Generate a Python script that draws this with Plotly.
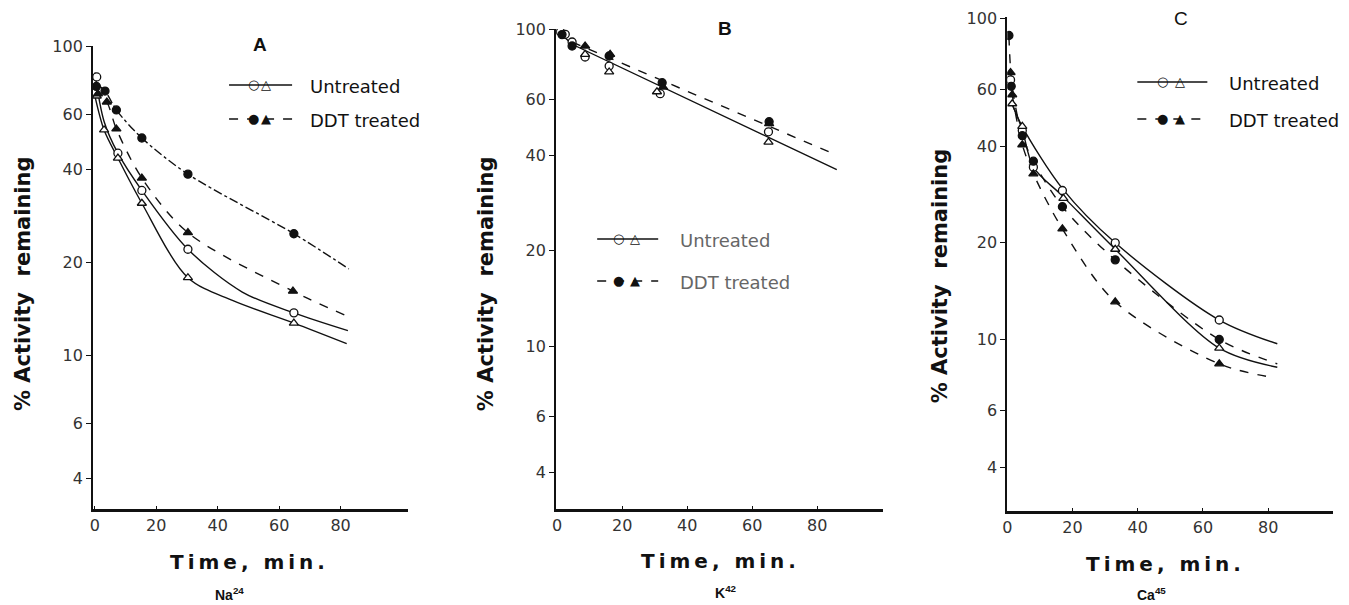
import plotly.graph_objects as go

W, H = 1349, 605

# ---------------- Panel A : Na24 ----------------
a_unt_circ_t = [0.6, 7.5, 15.3, 30.3, 64.8]
a_unt_circ_v = [79.4, 45.0, 34.1, 22.0, 13.7]
a_unt_tri_t = [0.6, 3.0, 7.5, 15.3, 30.3, 64.8]
a_unt_tri_v = [68.9, 53.5, 43.4, 31.0, 17.8, 12.7]
a_ddt_circ_t = [0.5, 3.3, 7.0, 15.3, 30.3, 64.8]
a_ddt_circ_v = [74.0, 71.5, 62.1, 50.4, 38.5, 24.7]
a_ddt_tri_t = [1.0, 3.9, 7.0, 15.3, 30.3, 64.5]
a_ddt_tri_v = [70.0, 65.9, 53.9, 37.4, 24.9, 16.1]

# fitted curves
a_fit_unt_circ_t = [0, 3, 7.5, 15.3, 30.3, 48, 64.8, 82.4]
a_fit_unt_circ_v = [82, 57, 45, 34.1, 22, 16, 13.7, 12.0]
a_fit_unt_tri_t = [0, 3, 7.5, 15.3, 30.3, 45, 64.8, 82]
a_fit_unt_tri_v = [69, 53.5, 43.4, 31, 17.8, 15.0, 12.7, 10.9]
a_fit_ddt_circ_t = [0, 3.3, 7, 15.3, 30.3, 64.8, 82.7]
a_fit_ddt_circ_v = [76, 71.5, 62.1, 50.4, 38.5, 24.7, 19.0]
a_fit_ddt_tri_t = [0, 3.9, 7, 15.3, 30.3, 64.5, 82]
a_fit_ddt_tri_v = [73, 65.9, 53.9, 37.4, 24.9, 16.1, 13.4]

# ---------------- Panel B : K42 ----------------
b_unt_circ_t = [1.0, 2.5, 4.6, 8.6, 16.0, 31.7, 65.0]
b_unt_circ_v = [98.0, 96.2, 91.0, 81.6, 76.4, 62.5, 47.4]
b_unt_tri_t = [8.6, 16.0, 30.7, 65.0]
b_unt_tri_v = [83.2, 73.2, 63.4, 44.0]
b_ddt_circ_t = [1.5, 4.6, 16.0, 32.3, 65.2]
b_ddt_circ_v = [96.0, 88.4, 82.2, 67.7, 51.0]
b_ddt_tri_t = [8.6, 16.3, 32.6, 65.2]
b_ddt_tri_v = [88.4, 83.2, 65.6, 50.3]

b_fit_unt_t = [0, 4.6, 86]
b_fit_unt_v = [99, 89.5, 36]
b_fit_ddt_t = [4.6, 86]
b_fit_ddt_v = [91, 40]

# ---------------- Panel C : Ca45 ----------------
c_unt_circ_t = [1.0, 4.6, 8.0, 16.9, 33.1, 65.0]
c_unt_circ_v = [64.3, 44.7, 34.4, 29.1, 20.0, 11.5]
c_unt_tri_t = [1.5, 4.6, 17.2, 33.1, 65.0]
c_unt_tri_v = [54.2, 46.1, 27.5, 19.1, 9.4]
c_ddt_circ_t = [0.5, 1.2, 4.6, 8.0, 16.9, 33.1, 65.0]
c_ddt_circ_v = [88.4, 61.4, 43.1, 35.9, 25.9, 17.7, 10.0]
c_ddt_tri_t = [1.0, 1.5, 4.6, 8.0, 16.9, 33.1, 65.0]
c_ddt_tri_v = [67.8, 57.8, 40.4, 32.8, 22.1, 13.1, 8.4]

c_fit_unt_circ_t = [1.5, 4.6, 16.9, 33.1, 65, 82.8]
c_fit_unt_circ_v = [54, 46, 29.5, 20, 11.5, 9.7]
c_fit_unt_tri_t = [1.5, 4.6, 8, 16.9, 33.1, 65, 82.8]
c_fit_unt_tri_v = [54, 45, 34.4, 28, 19.1, 9.4, 8.2]
c_fit_ddt_circ_t = [0.5, 1.5, 4.6, 8, 16.9, 33.1, 65, 82.8]
c_fit_ddt_circ_v = [88, 61.4, 43.1, 35.9, 25.9, 17.7, 10.0, 8.4]
c_fit_ddt_tri_t = [1.5, 4.6, 8, 16.9, 33.1, 65, 82]
c_fit_ddt_tri_v = [57.8, 40.4, 32.8, 22.1, 13.1, 8.4, 7.6]

y_ticks = [4, 6, 10, 20, 40, 60, 100]
x_ticks = [0, 20, 40, 60, 80]
panel_letters = ["A", "B", "C"]
isotopes = ["Na<sup>24</sup>", "K<sup>42</sup>", "Ca<sup>45</sup>"]
legend_labels = ["Untreated", "DDT treated"]

INK = "#111111"

# the page puts the figure slightly in from the corner; map screen px -> paper
SX, OX = 0.996, 13.0
SY, OY = 0.985, 16.0


def clamp(v):
    return min(1.0, max(0.0, v))


def px(x):
    return ((x - OX) / SX) / W


def py(y):
    return 1 - ((y - OY) / SY) / H


fig = go.Figure()


def curve(t, v, ax, dash="solid", shape="spline"):
    fig.add_trace(go.Scatter(x=t, y=v, mode="lines", xaxis="x" + ax, yaxis="y" + ax,
                             line=dict(color=INK, width=1.4, dash=dash, shape=shape,
                                       smoothing=0.9),
                             hoverinfo="skip", showlegend=False))


def pts(t, v, ax, symbol, filled):
    fig.add_trace(go.Scatter(x=t, y=v, mode="markers", xaxis="x" + ax, yaxis="y" + ax,
                             marker=dict(symbol=symbol, size=8,
                                         color=INK if filled else "white",
                                         line=dict(color=INK, width=1.3)),
                             showlegend=False))


# panel A
curve(a_fit_unt_circ_t, a_fit_unt_circ_v, "")
curve(a_fit_unt_tri_t, a_fit_unt_tri_v, "")
curve(a_fit_ddt_circ_t, a_fit_ddt_circ_v, "", dash="dashdot")
curve(a_fit_ddt_tri_t, a_fit_ddt_tri_v, "", dash="dash")
pts(a_unt_circ_t, a_unt_circ_v, "", "circle", False)
pts(a_unt_tri_t, a_unt_tri_v, "", "triangle-up", False)
pts(a_ddt_circ_t, a_ddt_circ_v, "", "circle", True)
pts(a_ddt_tri_t, a_ddt_tri_v, "", "triangle-up", True)

# panel B
curve(b_fit_unt_t, b_fit_unt_v, "2", shape="linear")
curve(b_fit_ddt_t, b_fit_ddt_v, "2", dash="dash", shape="linear")
pts(b_unt_circ_t, b_unt_circ_v, "2", "circle", False)
pts(b_unt_tri_t, b_unt_tri_v, "2", "triangle-up", False)
pts(b_ddt_circ_t, b_ddt_circ_v, "2", "circle", True)
pts(b_ddt_tri_t, b_ddt_tri_v, "2", "triangle-up", True)

# panel C
curve(c_fit_unt_circ_t, c_fit_unt_circ_v, "3")
curve(c_fit_unt_tri_t, c_fit_unt_tri_v, "3")
curve(c_fit_ddt_circ_t, c_fit_ddt_circ_v, "3", dash="dash")
curve(c_fit_ddt_tri_t, c_fit_ddt_tri_v, "3", dash="dash")
pts(c_unt_circ_t, c_unt_circ_v, "3", "circle", False)
pts(c_unt_tri_t, c_unt_tri_v, "3", "triangle-up", False)
pts(c_ddt_circ_t, c_ddt_circ_v, "3", "circle", True)
pts(c_ddt_tri_t, c_ddt_tri_v, "3", "triangle-up", True)

# panel geometry in screen pixels: (left, right, top, bottom, x-range, y-range(log))
panels = [
    dict(l=93, r=408, t=45, b=508, xr=[-0.6, 102], yr=[0.502, 2]),
    dict(l=556, r=883, t=28, b=508, xr=[-0.3, 100.3], yr=[0.486, 2]),
    dict(l=1007, r=1333, t=16, b=510, xr=[0, 100], yr=[0.466, 2.004]),
]

tick_font = dict(family="DejaVu Sans", size=16, color="#333333")
layout = {}
for i, p in enumerate(panels):
    sfx = "" if i == 0 else str(i + 1)
    layout["xaxis" + sfx] = dict(
        domain=[clamp(px(p["l"])), clamp(px(p["r"]))], range=p["xr"], anchor="y" + sfx,
        showline=True, linecolor=INK, linewidth=2.5, showgrid=False, zeroline=False,
        tickmode="array", tickvals=x_ticks, ticks="inside", ticklen=3, tickwidth=1,
        tickcolor=INK, tickfont=tick_font, fixedrange=True)
    layout["yaxis" + sfx] = dict(
        domain=[clamp(py(p["b"])), clamp(py(p["t"]))], range=p["yr"], type="log",
        anchor="x" + sfx,
        showline=True, linecolor=INK, linewidth=2, showgrid=False, zeroline=False,
        tickmode="array", tickvals=y_ticks, ticktext=[str(v) for v in y_ticks],
        ticks="outside", ticklen=5, tickwidth=1, tickcolor=INK, tickfont=tick_font,
        fixedrange=True)

annotations = []
shapes = []


def text(x, y, s, size, bold=False, family="Liberation Sans", angle=0, color=INK,
         xanchor="center"):
    annotations.append(dict(
        x=px(x), y=py(y), xref="paper", yref="paper", text=("<b>%s</b>" % s) if bold else s,
        showarrow=False, textangle=angle, xanchor=xanchor, yanchor="middle",
        font=dict(family=family, size=size, color=color)))


ytitle = "% Activity\u2009\u2009 remaining"
xtitle = "T\u2009i\u2009m\u2009e\u2009,\u2009\u2009 m\u2009i\u2009n\u2009."
y_title_x = [23, 486, 940]
y_title_y = [283, 283, 275]
x_title_x = [247, 718, 1163]
x_title_y = [561, 560, 563]
iso_x = [229, 726, 1151]
iso_y = [593, 591, 593]
letter_pos = [(260, 43), (725, 27), (1181, 17)]

for i in range(3):
    text(y_title_x[i], y_title_y[i], ytitle, 21, bold=True, family="DejaVu Sans", angle=-90)
    text(x_title_x[i], x_title_y[i], xtitle, 20, bold=True, family="DejaVu Sans")
    text(iso_x[i], iso_y[i], isotopes[i], 14, bold=True)
    lx, ly = letter_pos[i]
    text(lx, ly, panel_letters[i], 19, bold=(i < 2))

# legends: sample line, two glyphs, label
legends = [
    dict(x0=229, x1=292, rows=[84, 118], mx=[253, 266], tx=308, color=INK),
    dict(x0=597, x1=658, rows=[238, 280], mx=[618, 635], tx=678, color="#666666"),
    dict(x0=1137, x1=1207, rows=[81, 118], mx=[1162, 1180], tx=1227, color=INK),
]
for lg in legends:
    for r, (label, dash, glyphs) in enumerate(zip(legend_labels, ["solid", "dash"],
                                                  [("\u25cb", "\u25b3"), ("\u25cf", "\u25b2")])):
        y = lg["rows"][r]
        shapes.append(dict(type="line", xref="paper", yref="paper",
                           x0=px(lg["x0"]), x1=px(lg["x1"]), y0=py(y), y1=py(y),
                           line=dict(color=INK, width=1.4, dash=dash)))
        for g, gx in zip(glyphs, lg["mx"]):
            text(gx, y - 1, g, 13, family="DejaVu Sans")
        text(lg["tx"], y + 1, label, 18, family="DejaVu Sans", color=lg["color"],
             xanchor="left")

fig.update_layout(
    width=W, height=H, autosize=False,
    margin=dict(l=0, r=0, t=0, b=0),
    paper_bgcolor="white", plot_bgcolor="white",
    annotations=annotations, shapes=shapes, showlegend=False,
    **layout)

fig.write_html("out.html")
